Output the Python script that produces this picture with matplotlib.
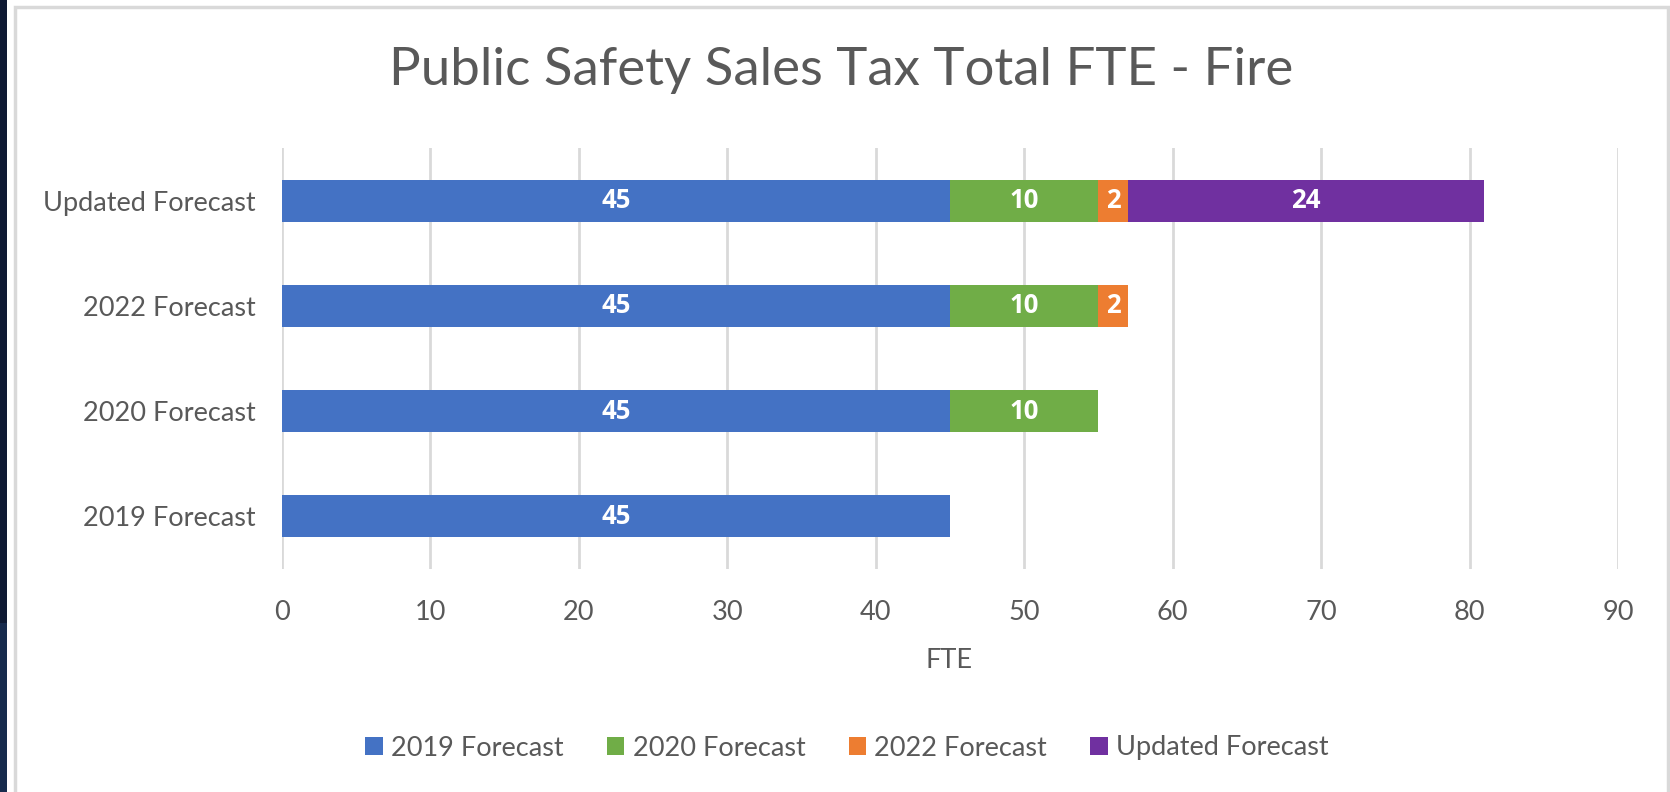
import matplotlib.pyplot as plt
from matplotlib.patches import Rectangle, Patch

# data (bottom to top, as drawn)
categories = ["2019 Forecast", "2020 Forecast", "2022 Forecast", "Updated Forecast"]
series_names = ["2019 Forecast", "2020 Forecast", "2022 Forecast", "Updated Forecast"]
fte_2019 = [45, 45, 45, 45]
fte_2020 = [0, 10, 10, 10]
fte_2022 = [0, 0, 2, 2]
fte_updated = [0, 0, 0, 24]
colors = ["#4472C4", "#70AD47", "#ED7D31", "#7030A0"]

plt.rcParams['font.family'] = ['Lato', 'DejaVu Sans']
TXT = "#595959"
W, H = 1670, 792

fig = plt.figure(figsize=(W / 100, H / 100), dpi=100, facecolor="white")

# slide background strip on the left and chart frame
fig.patches.append(Rectangle((0, 0), 7 / W, 1, transform=fig.transFigure,
                             facecolor="#172b4d", edgecolor="none", zorder=-2))
fig.patches.append(Rectangle((0, (H - 623) / H), 7 / W, 623 / H, transform=fig.transFigure,
                             facecolor="#0e1a33", edgecolor="none", zorder=-2))
fig.patches.append(Rectangle((14.5 / W, -0.05), (1667.5 - 14.5) / W, (H - 6.5) / H + 0.05,
                             transform=fig.transFigure, facecolor="white",
                             edgecolor="#d9d9d9", linewidth=2.5, zorder=-1))

ax = fig.add_axes([282 / W, (H - 569) / H, (1618 - 282) / W, (569 - 148) / H])
ax.set_facecolor("none")
ax.set_zorder(1)

series = [fte_2019, fte_2020, fte_2022, fte_updated]
y = list(range(len(categories)))
left = [0] * len(categories)
for name, vals, col in zip(series_names, series, colors):
    bars = ax.barh(y, vals, left=left, height=0.4, color=col, label=name, zorder=3)
    for b, v in zip(bars, vals):
        if v > 0:
            ax.text(b.get_x() + b.get_width() / 2, b.get_y() + b.get_height() / 2, str(v),
                    ha="center", va="center", color="white", fontsize=18.5,
                    fontweight="bold", family=["Open Sans", "DejaVu Sans"], zorder=4)
    left = [l + v for l, v in zip(left, vals)]

ax.set_xlim(0, 90)
ax.set_ylim(-0.5, 3.5)
ax.set_xticks(range(0, 91, 10))
ax.set_yticks(y)
ax.set_yticklabels(categories)
ax.grid(axis="x", color="#d9d9d9", linewidth=2, zorder=0)
ax.tick_params(axis="both", length=0, colors=TXT, labelsize=19.5)
ax.tick_params(axis="x", pad=22)
ax.tick_params(axis="y", pad=19)
for s in ax.spines.values():
    s.set_visible(False)

fig.text(0.5685, 132 / H, "FTE", ha="center", va="center", color=TXT, fontsize=19.5)
fig.text(841 / W, (H - 70) / H, "Public Safety Sales Tax Total FTE - Fire",
         ha="center", va="center", color=TXT, fontsize=38)

handles = [Patch(facecolor=c, edgecolor="none") for c in colors]
fig.legend(handles, series_names, loc="center", bbox_to_anchor=(847 / W, 44 / H),
           ncol=4, frameon=False, fontsize=19.5, labelcolor=TXT,
           handlelength=0.65, handleheight=0.65, handletextpad=0.3, columnspacing=1.6)

fig.savefig("out.png", dpi=100, facecolor=fig.get_facecolor())
